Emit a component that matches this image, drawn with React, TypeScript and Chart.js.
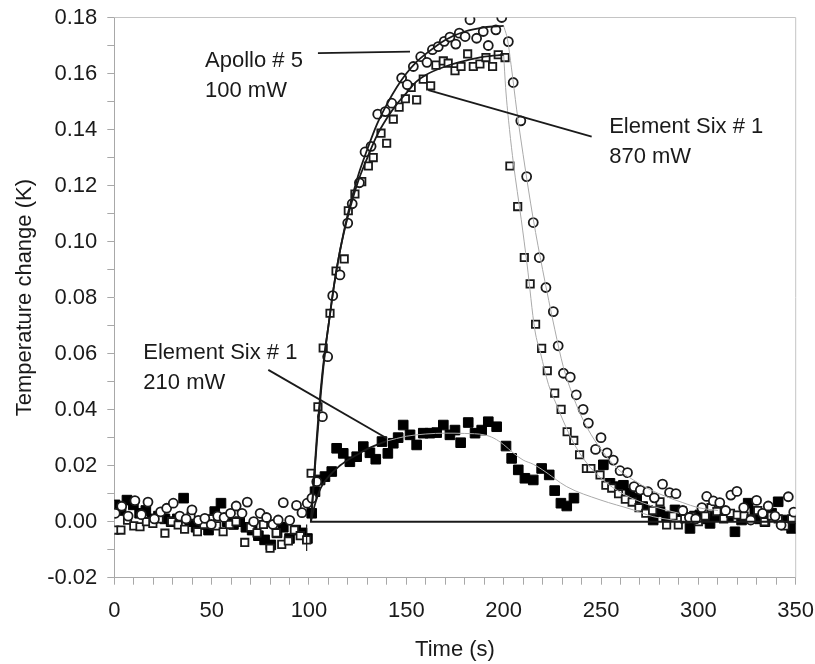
import React, { useEffect, useRef } from 'react';
import Chart from 'chart.js/auto';

// ---- Apollo # 5, 100 mW (open circles) ----
const apolloT = [0.5, 3.8, 7.1, 10.6, 13.9, 17.3, 20.6, 23.8, 26.9, 30.3, 33.6, 36.9, 39.9, 43.2, 46.5, 49.8, 53.1, 56.4, 59.7, 62.6, 65.6, 68.3, 71.6, 74.9, 78.2, 81.5, 84.2, 86.8, 90.1, 93.6, 96.4, 99.1, 101.5, 104.0, 106.9, 109.6, 112.2, 115.9, 119.9, 122.2, 125.9, 128.8, 131.9, 135.3, 139.2, 142.5, 147.6, 150.5, 153.6, 157.4, 160.6, 163.4, 166.4, 169.5, 172.4, 175.4, 177.2, 180.2, 182.7, 186.1, 189.5, 192.1, 196.0, 199.0, 202.4, 204.9, 208.8, 211.8, 215.2, 218.3, 221.7, 225.5, 228.0, 230.7, 234.2, 237.3, 240.8, 243.5, 247.2, 250.0, 253.1, 256.3, 259.8, 263.6, 267.0, 270.2, 274.1, 277.4, 281.6, 285.2, 288.5, 292.0, 295.4, 298.6, 301.8, 304.3, 307.7, 311.0, 314.0, 316.7, 319.8, 323.3, 326.9, 329.9, 333.0, 335.9, 339.4, 342.5, 346.2, 349.0];
const apolloV = [0.003, 0.0055, 0.002, 0.0075, 0.0025, 0.007, 0.001, 0.0035, 0.0048, 0.0066, 0.002, 0.001, 0.0042, 0.0005, 0.0012, -0.001, 0.002, 0.0015, 0.003, 0.0056, 0.003, 0.007, 0.0, 0.003, 0.0015, -0.001, 0.0006, 0.0068, 0.0005, 0.0058, 0.0032, 0.0066, 0.0084, 0.0143, 0.0375, 0.0589, 0.0807, 0.0881, 0.1066, 0.1135, 0.121, 0.132, 0.134, 0.1455, 0.1464, 0.1494, 0.1584, 0.156, 0.1625, 0.166, 0.164, 0.1685, 0.1696, 0.1715, 0.173, 0.1705, 0.1744, 0.1732, 0.1792, 0.1726, 0.175, 0.17, 0.1756, 0.18, 0.1714, 0.1568, 0.1431, 0.1232, 0.1068, 0.0943, 0.0836, 0.075, 0.0628, 0.053, 0.0516, 0.0453, 0.0401, 0.0352, 0.0258, 0.03, 0.0246, 0.022, 0.0182, 0.0175, 0.0125, 0.0113, 0.0107, 0.0085, 0.0134, 0.0104, 0.01, 0.004, 0.0015, 0.001, 0.005, 0.009, 0.0074, 0.0068, 0.004, 0.0095, 0.0108, 0.005, 0.0006, 0.0076, 0.003, 0.0056, 0.002, -0.0012, 0.0089, 0.0034];

// ---- Element Six # 1, 870 mW (open squares) ----
const e6HighT = [0.3, 3.4, 6.8, 10.0, 13.2, 16.5, 19.8, 23.0, 26.0, 29.5, 32.8, 36.1, 39.4, 42.7, 46.0, 49.3, 52.6, 55.9, 59.2, 62.5, 67.0, 70.0, 73.3, 76.6, 80.0, 83.2, 86.0, 89.4, 92.5, 95.5, 98.8, 101.1, 104.6, 107.3, 110.8, 113.9, 118.1, 120.2, 123.6, 127.1, 130.5, 133.0, 137.0, 139.9, 143.3, 146.3, 149.5, 152.5, 155.3, 158.7, 162.5, 165.2, 169.0, 171.5, 175.0, 178.1, 181.5, 184.4, 187.8, 190.9, 194.3, 197.2, 200.7, 203.2, 207.2, 210.6, 213.6, 216.4, 219.5, 222.4, 226.2, 229.5, 232.6, 236.0, 239.0, 242.5, 244.8, 249.5, 252.5, 255.5, 259.0, 262.5, 266.0, 269.5, 273.0, 276.5, 280.3, 283.7, 287.0, 289.7, 293.0, 296.5, 300.0, 303.5, 306.5, 309.5, 313.0, 316.5, 320.0, 323.5, 327.0, 330.5, 334.0, 337.5, 341.0, 344.5, 348.0];
const e6HighV = [-0.003, -0.003, 0.0005, -0.0015, -0.0018, 0.0, -0.0006, 0.001, -0.0041, 0.0, -0.0012, -0.0027, 0.002, -0.0036, -0.001, 0.001, -0.0015, -0.0036, -0.001, 0.0, -0.0074, -0.002, -0.004, -0.001, -0.0095, -0.004, -0.0081, -0.0069, -0.003, -0.005, -0.0065, 0.0173, 0.041, 0.062, 0.0744, 0.0895, 0.0938, 0.111, 0.117, 0.1214, 0.127, 0.13, 0.1387, 0.1351, 0.1437, 0.148, 0.151, 0.155, 0.1506, 0.158, 0.1556, 0.163, 0.1645, 0.1637, 0.161, 0.1625, 0.167, 0.1625, 0.1634, 0.1657, 0.1625, 0.1667, 0.1657, 0.127, 0.1125, 0.0943, 0.0849, 0.0705, 0.0619, 0.0539, 0.0459, 0.0401, 0.0321, 0.029, 0.0239, 0.019, 0.019, 0.0167, 0.013, 0.012, 0.01, 0.008, 0.007, 0.005, 0.003, 0.004, 0.0071, -0.0012, 0.002, -0.0012, 0.001, 0.0018, 0.0, 0.002, 0.005, 0.0036, 0.001, 0.003, 0.0024, 0.002, 0.001, 0.004, 0.0, 0.002, 0.001, -0.0015, 0.001];

// ---- Element Six # 1, 210 mW (filled squares) ----
const e6LowT = [0.4, 3.5, 6.5, 9.8, 13.0, 16.2, 19.5, 22.7, 26.0, 29.2, 32.4, 35.6, 38.8, 42.0, 45.2, 48.4, 51.6, 54.8, 58.0, 61.2, 64.4, 67.6, 70.8, 74.0, 77.2, 80.4, 83.6, 86.8, 90.0, 93.2, 96.4, 99.2, 101.4, 103.1, 105.7, 108.2, 111.7, 114.2, 117.6, 121.0, 124.5, 127.9, 131.3, 134.3, 137.5, 140.5, 143.3, 145.8, 148.4, 151.9, 155.3, 158.7, 162.1, 165.6, 169.0, 172.4, 175.0, 177.9, 181.8, 185.3, 188.7, 192.1, 196.4, 201.2, 204.1, 207.5, 210.9, 215.2, 219.5, 223.4, 226.2, 229.4, 232.4, 236.1, 251.2, 254.6, 258.0, 261.5, 264.9, 268.3, 271.4, 274.0, 276.8, 280.3, 283.7, 288.0, 291.4, 295.7, 298.0, 300.8, 303.5, 306.0, 308.5, 311.1, 315.4, 318.8, 322.2, 325.6, 329.0, 331.5, 334.2, 337.6, 341.0, 344.5, 347.9];
const e6LowV = [0.006, 0.004, 0.0077, 0.006, 0.003, 0.004, 0.001, 0.002, 0.001, 0.0, 0.001, 0.0084, 0.0, -0.002, -0.001, -0.003, 0.0036, 0.0066, 0.0, -0.001, 0.0, -0.002, -0.003, -0.005, -0.0065, -0.0083, -0.004, -0.002, -0.006, -0.003, -0.004, -0.006, 0.003, 0.0107, 0.0149, 0.0161, 0.0179, 0.0262, 0.0244, 0.0214, 0.0232, 0.0268, 0.0246, 0.0223, 0.0286, 0.0244, 0.028, 0.03, 0.0345, 0.031, 0.0274, 0.0316, 0.0316, 0.0318, 0.0345, 0.031, 0.0327, 0.0282, 0.0354, 0.0316, 0.0327, 0.0357, 0.0339, 0.027, 0.0226, 0.0185, 0.0155, 0.0149, 0.019, 0.0167, 0.0111, 0.0066, 0.0056, 0.0084, 0.0203, 0.0137, 0.0125, 0.013, 0.0101, 0.0084, 0.0054, 0.004, 0.0006, 0.0036, 0.0018, 0.0042, 0.0036, -0.0024, 0.002, 0.0024, 0.001, -0.0006, 0.002, 0.0036, 0.0018, -0.0036, 0.0006, 0.0066, 0.0036, 0.001, 0.0, 0.003, 0.0071, 0.0006, -0.0024];

// ---- fitted curves ----
const apolloRiseT = [101, 102, 104, 106, 108, 110, 113, 116, 120, 125, 130, 135, 140, 145, 150, 155, 160, 170, 180, 190, 200];
const apolloRiseV = [0, 0.009, 0.028, 0.045, 0.059, 0.07, 0.085, 0.097, 0.11, 0.123, 0.133, 0.142, 0.149, 0.155, 0.16, 0.164, 0.167, 0.172, 0.175, 0.1765, 0.177];
const e6HighRiseT = [101, 102, 104, 106, 108, 110, 113, 116, 120, 125, 130, 135, 140, 145, 150, 155, 160, 170, 180, 190, 200];
const e6HighRiseV = [0, 0.01, 0.03, 0.047, 0.06, 0.07, 0.085, 0.097, 0.109, 0.121, 0.13, 0.138, 0.144, 0.149, 0.153, 0.157, 0.1595, 0.1625, 0.1645, 0.166, 0.1667];
const apolloDecayT = [200, 202, 204, 206.7, 210, 215.2, 220, 226.3, 230.6, 235, 239.2, 245, 252.9, 260, 266.6, 275, 283.7, 292, 300, 310];
const apolloDecayV = [0.177, 0.172, 0.162, 0.147, 0.131, 0.108, 0.09, 0.0685, 0.0554, 0.046, 0.0387, 0.031, 0.0232, 0.018, 0.0149, 0.0115, 0.0089, 0.0068, 0.005, 0.004];
const e6HighDecayT = [200, 201, 203, 205, 209, 212, 216, 219, 223, 227, 230.6, 236, 242.6, 250, 258, 267, 277, 290];
const e6HighDecayV = [0.1667, 0.155, 0.14, 0.128, 0.108, 0.092, 0.0685, 0.06, 0.049, 0.042, 0.036, 0.028, 0.021, 0.0155, 0.0113, 0.008, 0.0054, 0.003];
const e6LowRiseT = [101, 103, 106, 110, 115, 120, 125, 130, 135, 140];
const e6LowRiseV = [0, 0.006, 0.012, 0.016, 0.0195, 0.022, 0.024, 0.026, 0.0275, 0.0288];
const e6LowRestT = [140, 150, 160, 170, 180, 190, 195, 200, 205, 210, 215.2, 220, 232.4, 249.5, 266.6, 276.8, 290];
const e6LowRestV = [0.0288, 0.0305, 0.0313, 0.0316, 0.0315, 0.031, 0.0298, 0.0275, 0.0245, 0.022, 0.0205, 0.0185, 0.0125, 0.0078, 0.0042, 0.0018, 0.0003];
const zeroLineT = [100.5, 350];
const zeroLineV = [0, 0];
const markT = [98.8, 98.8];
const markV = [-0.001, -0.0105];

// ---- annotation leader lines and labels ----
const leaderApolloT = [104.6, 151.9];
const leaderApolloV = [0.1673, 0.1678];
const leaderHighT = [161.3, 245.2];
const leaderHighV = [0.1541, 0.1375];
const leaderLowT = [79.1, 139.9];
const leaderLowV = [0.0542, 0.0298];
const labelTexts = ['Apollo # 5', '100 mW', 'Element Six # 1', '870 mW', 'Element Six # 1', '210 mW'];
const labelT = [46.6, 46.6, 254.2, 254.2, 14.9, 14.9];
const labelV = [0.1624, 0.1516, 0.1387, 0.128, 0.058, 0.0473];

// ---- axes ----
const xTickLabels = [0, 50, 100, 150, 200, 250, 300, 350];
const yTickLabels = ['-0.02', '0.00', '0.02', '0.04', '0.06', '0.08', '0.10', '0.12', '0.14', '0.16', '0.18'];
const xTitle = 'Time (s)';
const yTitle = 'Temperature change (K)';

const FONT = '"Liberation Sans", Arial, Helvetica, sans-serif';
const INK = '#1a1a1a';
const AXIS = '#a8a8a8';

const pts = (t: number[], v: number[]) => t.map((x, i) => ({ x, y: v[i] }));

const line = (t: number[], v: number[], color: string, width: number, smooth: boolean) => ({
  data: pts(t, v),
  showLine: true,
  borderColor: color,
  borderWidth: width,
  pointRadius: 0,
  fill: false,
  cubicInterpolationMode: smooth ? 'monotone' : 'default',
  tension: 0,
});

export default function App() {
  const ref = useRef<HTMLCanvasElement | null>(null);

  useEffect(() => {
    if (!ref.current) return;

    const boxPlugin = {
      id: 'box',
      beforeDatasetsDraw(chart: any) {
        const { ctx, chartArea } = chart;
        ctx.save();
        ctx.strokeStyle = '#c4c4c4';
        ctx.lineWidth = 1;
        ctx.beginPath();
        ctx.moveTo(chartArea.left, chartArea.top);
        ctx.lineTo(chartArea.right, chartArea.top);
        ctx.lineTo(chartArea.right, chartArea.bottom);
        ctx.stroke();
        ctx.restore();
      },
    };

    const labelPlugin = {
      id: 'labels',
      afterDatasetsDraw(chart: any) {
        const { ctx, scales } = chart;
        ctx.save();
        ctx.font = `22px ${FONT}`;
        ctx.fillStyle = INK;
        ctx.textAlign = 'left';
        ctx.textBaseline = 'alphabetic';
        labelTexts.forEach((s, i) => {
          ctx.fillText(s, scales.x.getPixelForValue(labelT[i]), scales.y.getPixelForValue(labelV[i]));
        });
        ctx.restore();
      },
    };

    const chart = new Chart(ref.current, {
      type: 'scatter',
      data: {
        datasets: [
          line(leaderApolloT, leaderApolloV, INK, 1.8, false),
          line(leaderHighT, leaderHighV, INK, 1.8, false),
          line(leaderLowT, leaderLowV, INK, 1.8, false),
          line(zeroLineT, zeroLineV, INK, 2, false),
          line(markT, markV, INK, 1.2, false),
          line(apolloRiseT, apolloRiseV, INK, 1.8, true),
          line(e6HighRiseT, e6HighRiseV, INK, 1.8, true),
          line(e6LowRiseT, e6LowRiseV, INK, 1.8, true),
          line(apolloDecayT, apolloDecayV, '#aaaaaa', 1, true),
          line(e6HighDecayT, e6HighDecayV, '#aaaaaa', 1, true),
          line(e6LowRestT, e6LowRestV, '#aaaaaa', 1, true),
          {
            data: pts(apolloT, apolloV),
            pointStyle: 'circle',
            pointRadius: 4.5,
            borderWidth: 1.8,
            borderColor: INK,
            backgroundColor: '#ffffff',
          },
          {
            data: pts(e6HighT, e6HighV),
            pointStyle: 'rect',
            pointRadius: 5.2,
            borderWidth: 1.8,
            borderColor: INK,
            backgroundColor: '#ffffff',
          },
          {
            data: pts(e6LowT, e6LowV),
            pointStyle: 'rect',
            pointRadius: 6.8,
            borderWidth: 1,
            borderColor: '#000000',
            backgroundColor: '#000000',
          },
        ] as any,
      },
      options: {
        animation: false,
        responsive: false,
        events: [],
        layout: { padding: { top: 17.5, right: 19.3, left: 0, bottom: 0 } },
        plugins: { legend: { display: false }, tooltip: { enabled: false } },
        font: { family: FONT, size: 22 } as any,
        scales: {
          x: {
            type: 'linear',
            min: 0,
            max: 350,
            afterFit: (s: any) => {
              s.height = 86.3;
              s.paddingLeft = 0;
              s.paddingRight = 0;
            },
            border: { display: true, color: AXIS, width: 1 },
            grid: { drawOnChartArea: false, drawTicks: true, tickLength: 7, color: AXIS, lineWidth: 1 },
            ticks: {
              stepSize: 10,
              autoSkip: false,
              maxRotation: 0,
              padding: 13,
              color: INK,
              font: { family: FONT, size: 22 },
              callback: (v: any) => {
                const n = Math.round(Number(v));
                return xTickLabels.includes(n) ? String(n) : '';
              },
            },
            title: {
              display: true,
              text: xTitle,
              color: INK,
              font: { family: FONT, size: 22 },
              padding: { top: 0, bottom: 0.5 },
            },
          },
          y: {
            type: 'linear',
            min: -0.02,
            max: 0.18,
            afterFit: (s: any) => {
              s.width = 114.3;
              s.paddingTop = 0;
              s.paddingBottom = 0;
            },
            border: { display: true, color: AXIS, width: 1 },
            grid: { drawOnChartArea: false, drawTicks: true, tickLength: 7, color: AXIS, lineWidth: 1 },
            ticks: {
              stepSize: 0.01,
              autoSkip: false,
              padding: 10,
              color: INK,
              font: { family: FONT, size: 22 },
              callback: (v: any) => {
                const n = Number(v);
                const s = Math.abs(n) < 1e-9 ? '0.00' : n.toFixed(2);
                return yTickLabels.includes(s) ? s : '';
              },
            },
            title: {
              display: true,
              text: yTitle,
              color: INK,
              font: { family: FONT, size: 22 },
              padding: { top: 12, bottom: 0 },
            },
          },
        },
      } as any,
      plugins: [boxPlugin, labelPlugin],
    });

    return () => chart.destroy();
  }, []);

  return (
    <div style={{ position: 'absolute', left: 0, top: 0, width: 815, height: 664, background: '#ffffff' }}>
      <canvas ref={ref} width={815} height={664} style={{ display: 'block', width: 815, height: 664 }} />
    </div>
  );
}
